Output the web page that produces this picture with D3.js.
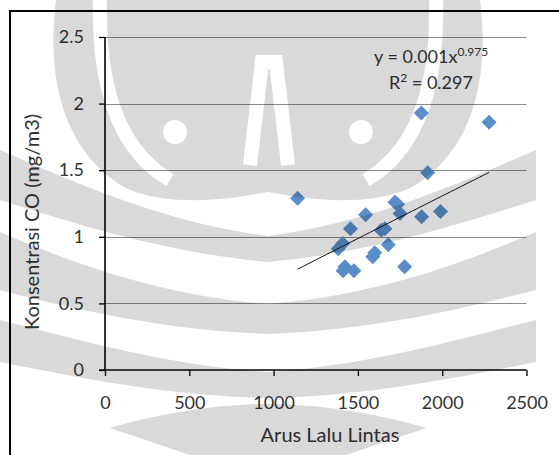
<!DOCTYPE html>
<html>
<head>
<meta charset="utf-8">
<script src="https://cdn.jsdelivr.net/npm/d3@7"></script>
<style>
  html, body { margin: 0; padding: 0; background: #fff; }
  svg { display: block; font-family: Lato, "Open Sans", sans-serif; }
</style>
</head>
<body>
<svg id="chart" width="559" height="455"></svg>
<script>
// Traffic flow (vehicles) vs CO concentration (mg/m3)
const arusLaluLintas = [1142, 1876, 2278, 1914, 1546, 1720, 1735, 1750, 1878, 1990,
                        1456, 1638, 1660, 1680, 1383, 1410, 1588, 1600, 1423, 1412,
                        1476, 1777];
const konsentrasiCO  = [1.29, 1.93, 1.86, 1.48, 1.165, 1.26, 1.245, 1.175, 1.15, 1.19,
                        1.06, 1.05, 1.06, 0.94, 0.91, 0.95, 0.85, 0.88, 0.775, 0.745,
                        0.745, 0.775];
const xTicks = [0, 500, 1000, 1500, 2000, 2500];
const yTicks = [0, 0.5, 1, 1.5, 2, 2.5];
const yTickLabels = ["0", "0.5", "1", "1.5", "2", "2.5"];
// Power trend line y = a * x^b (a shown rounded in the label)
const trendCoef = 0.00079;
const trendExp = 0.975;
const eqText = "y = 0.001x";
const eqSup = "0.975";
const r2Value = "0.297";

const svg = d3.select("#chart");
const W = 559, H = 455;

const x = d3.scaleLinear().domain([0, 2500]).range([105, 526.5]);
const y = d3.scaleLinear().domain([0, 2.5]).range([370, 37]);

// chart frame
svg.append("line").attr("x1", 10).attr("x2", 10).attr("y1", 10).attr("y2", H)
  .attr("stroke", "#000").attr("stroke-width", 2);
svg.append("line").attr("x1", 10).attr("x2", W).attr("y1", 11).attr("y2", 11)
  .attr("stroke", "#000").attr("stroke-width", 2);

// horizontal gridlines
svg.append("g").selectAll("line").data(yTicks.filter(d => d > 0)).join("line")
  .attr("x1", x(0)).attr("x2", x(2500))
  .attr("y1", d => Math.round(y(d)) + 0.5).attr("y2", d => Math.round(y(d)) + 0.5)
  .attr("stroke", "#8a8a8a").attr("stroke-width", 1);

// axes
const yAxis = d3.axisLeft(y).tickValues(yTicks)
  .tickFormat((d, i) => yTickLabels[i]).tickSize(6).tickPadding(15);
const gy = svg.append("g").attr("transform", `translate(${x(0)},0)`).call(yAxis);
const xAxis = d3.axisBottom(x).tickValues(xTicks).tickFormat(d3.format("d"))
  .tickSize(6).tickPadding(20);
const gx = svg.append("g").attr("transform", `translate(0,${y(0)})`).call(xAxis);
[gx, gy].forEach(g => {
  g.select(".domain").attr("stroke", "#000").attr("stroke-width", 1.6);
  g.selectAll(".tick line").attr("stroke", "#000").attr("stroke-width", 1.3);
  g.selectAll(".tick text").attr("fill", "#333").style("font-size", "18px")
    .style("font-family", "Lato, sans-serif");
});
gx.select(".domain").attr("d", `M${x(0) - 6},0H${x(2500)}`);
gy.select(".domain").attr("d", `M0,${y(2.5)}V${y(0)}`);

// markers
const pts = arusLaluLintas.map((v, i) => [v, konsentrasiCO[i]]);
const diamond = "M0,-7.5L7.5,0L0,7.5L-7.5,0Z";
svg.append("g").selectAll("path").data(pts).join("path")
  .attr("d", diamond)
  .attr("transform", d => `translate(${x(d[0])},${y(d[1])})`)
  .attr("fill", "#5a8dca");

// power trend line across data range
const xMin = d3.min(arusLaluLintas), xMax = d3.max(arusLaluLintas);
const trend = d3.range(0, 41).map(i => {
  const xv = xMin + (xMax - xMin) * i / 40;
  return [xv, trendCoef * Math.pow(xv, trendExp)];
});
svg.append("path").datum(trend)
  .attr("d", d3.line().x(d => x(d[0])).y(d => y(d[1])))
  .attr("fill", "none").attr("stroke", "#111").attr("stroke-width", 1);

// trend equation label
const eq = svg.append("text").attr("x", 374).attr("y", 63)
  .attr("fill", "#333").style("font-size", "18px");
eq.append("tspan").text(eqText);
eq.append("tspan").attr("dy", -7).style("font-size", "12px").text(eqSup);
const r2 = svg.append("text").attr("x", 389).attr("y", 89)
  .attr("fill", "#333").style("font-size", "18px");
r2.append("tspan").text("R");
r2.append("tspan").attr("dy", -7).style("font-size", "12px").text("2");
r2.append("tspan").attr("dy", 7).text(" = " + r2Value);

// axis titles
svg.append("text").attr("transform", "translate(39,222) rotate(-90)")
  .attr("text-anchor", "middle").attr("fill", "#333").style("font-size", "20px")
  .text("Konsentrasi CO (mg/m3)");
svg.append("text").attr("x", 330).attr("y", 442)
  .attr("text-anchor", "middle").attr("fill", "#333").style("font-size", "20px")
  .text("Arus Lalu Lintas");

// page watermark: light emblem multiplied over the chart, holes cut with a mask
const mirror = "translate(536,0) scale(-1,1)";
const mask = svg.append("defs").append("mask").attr("id", "wm-holes")
  .attr("maskUnits", "userSpaceOnUse").attr("x", 0).attr("y", 0)
  .attr("width", W).attr("height", H);
mask.append("rect").attr("width", W).attr("height", H).attr("fill", "#fff");
const holes = mask.append("g").attr("fill", "none").attr("stroke", "#000").attr("stroke-width", 14);
const arcL = "M100,0 C98,85 118,150 170,180";
holes.append("path").attr("d", arcL);
holes.append("path").attr("d", arcL).attr("transform", mirror);
holes.append("path").attr("d", "M250,165 L262,62 L276,62 L288,165");
holes.append("circle").attr("cx", 175).attr("cy", 132).attr("r", 12).attr("fill", "#000").attr("stroke", "none");
holes.append("circle").attr("cx", 361).attr("cy", 132).attr("r", 12).attr("fill", "#000").attr("stroke", "none");

const wm = svg.append("g").attr("mask", "url(#wm-holes)")
  .style("mix-blend-mode", "multiply").attr("fill", "#d9d9d9");
const headL = "M56,0 C46,80 64,150 122,186 C165,208 225,200 268,192 L268,0 Z";
wm.append("path").attr("d", headL);
wm.append("path").attr("d", headL).attr("transform", mirror);
const bands = [
  "M0,150 C70,180 160,222 268,236 L268,262 C160,252 70,222 0,200 Z",
  "M0,232 C70,262 160,296 268,304 L268,334 C160,330 70,308 0,290 Z",
  "M0,320 C80,340 170,366 268,372 L268,398 C170,396 80,378 0,362 Z",
  "M110,428 C170,410 230,404 268,404 L268,455 L190,455 Z"
];
bands.forEach(d => {
  wm.append("path").attr("d", d);
  wm.append("path").attr("d", d).attr("transform", mirror);
});
</script>
</body>
</html>
